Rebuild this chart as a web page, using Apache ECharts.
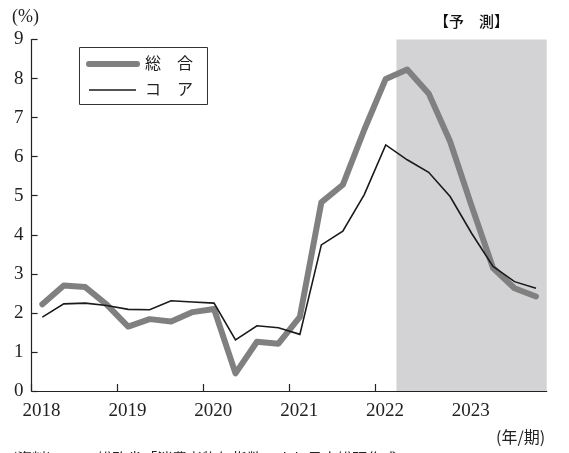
<!DOCTYPE html>
<html>
<head>
<meta charset="utf-8">
<script src="https://cdn.jsdelivr.net/npm/echarts@6/dist/echarts.min.js"></script>
<style>
  html, body { margin: 0; padding: 0; background: #fff; }
  #chart { width: 569px; height: 453px; }
</style>
</head>
<body>
<div id="chart"></div>
<script>
// Quarterly CPI inflation (y/y %), 2018Q1 – 2023Q4; forecast from 2022Q2
const years = [2018, 2019, 2020, 2021, 2022, 2023];
const quarters = ['Q1', 'Q2', 'Q3', 'Q4'];
const yTicks = [0, 1, 2, 3, 4, 5, 6, 7, 8, 9];

const headline = [2.22, 2.70, 2.66, 2.21, 1.65, 1.84, 1.78, 2.02, 2.10, 0.45, 1.26, 1.21,
                  1.90, 4.83, 5.28, 6.69, 7.99, 8.23, 7.62, 6.39, 4.74, 3.15, 2.63, 2.42];
const core     = [1.89, 2.23, 2.25, 2.19, 2.09, 2.08, 2.31, 2.28, 2.25, 1.31, 1.67, 1.62,
                  1.45, 3.74, 4.09, 5.03, 6.30, 5.92, 5.60, 4.98, 4.04, 3.19, 2.80, 2.63];

const forecastStart = 17; // 2022Q2 onward
const nQ = years.length * quarters.length;

const serif = '"Liberation Serif", "DejaVu Serif", serif';
const jp = '"Noto Sans CJK JP", sans-serif';

// x positioned at quarter centres on a continuous quarter scale
const toPts = arr => arr.map((v, i) => [i + 0.5, v]);

const chart = echarts.init(document.getElementById('chart'), null, { renderer: 'canvas' });

chart.setOption({
  animation: false,
  backgroundColor: '#fff',
  grid: { left: 31.6, right: 22.3, top: 39.5, bottom: 62 },
  xAxis: {
    type: 'value',
    min: 0,
    max: nQ,
    interval: 4,
    axisLine: { show: true, lineStyle: { color: '#222', width: 1.2 } },
    axisTick: { show: true, inside: true, length: 7, lineStyle: { color: '#222', width: 1.2 } },
    splitLine: { show: false },
    axisLabel: {
      color: '#222',
      fontFamily: serif,
      fontSize: 19,
      margin: 11,
      padding: [0, 0, 0, 20],
      showMaxLabel: false,
      formatter: v => (v < nQ ? String(years[v / 4]) : '')
    }
  },
  yAxis: {
    type: 'value',
    min: yTicks[0],
    max: yTicks[yTicks.length - 1],
    interval: 1,
    axisLine: { show: true, lineStyle: { color: '#222', width: 1.2 } },
    axisTick: { show: true, inside: true, length: 6, lineStyle: { color: '#222', width: 1.2 } },
    splitLine: { show: false },
    axisLabel: { color: '#222', fontFamily: serif, fontSize: 19, margin: 8 }
  },
  series: [
    {
      name: '総　合',
      type: 'line',
      data: toPts(headline),
      symbol: 'none',
      lineStyle: { color: '#808080', width: 6, cap: 'round', join: 'round' },
      z: 3,
      markArea: {
        silent: true,
        itemStyle: { color: '#d3d3d5' },
        data: [[{ xAxis: forecastStart }, { xAxis: nQ }]]
      }
    },
    {
      name: 'コ　ア',
      type: 'line',
      data: toPts(core),
      symbol: 'none',
      lineStyle: { color: '#1a1a1a', width: 1.6, join: 'miter' },
      z: 4
    }
  ],
  graphic: [
    // legend box
    { type: 'rect', shape: { x: 79.5, y: 47.5, width: 128, height: 57 },
      style: { fill: '#fff', stroke: '#333', lineWidth: 1 }, z: 10 },
    { type: 'line', shape: { x1: 89, y1: 64, x2: 137, y2: 64 },
      style: { stroke: '#808080', lineWidth: 6, lineCap: 'round' }, z: 11 },
    { type: 'line', shape: { x1: 89, y1: 90, x2: 136, y2: 90 },
      style: { stroke: '#1a1a1a', lineWidth: 1.6 }, z: 11 },
    { type: 'text', left: 145, top: 55, z: 11,
      style: { text: '総　合', font: '16px ' + jp, fill: '#222' } },
    { type: 'text', left: 145, top: 81, z: 11,
      style: { text: 'コ　ア', font: '16px ' + jp, fill: '#222' } },
    // unit labels and forecast header
    { type: 'text', left: 12, top: 8,
      style: { text: '(%)', font: '18px ' + serif, fill: '#222' } },
    { type: 'text', left: 434, top: 14,
      style: { text: '【予　測】', font: '500 15px ' + jp, fill: '#111' } },
    { type: 'text', left: 496, top: 429,
      style: { text: '(年/期)', font: '16px ' + jp, fill: '#222' } },
    { type: 'text', left: 12, top: 451,
      style: { text: '(資料)　　　総務省「消費者物価指数」より日本総研作成', font: '15px ' + jp, fill: '#222' } }
  ]
});
</script>
</body>
</html>
